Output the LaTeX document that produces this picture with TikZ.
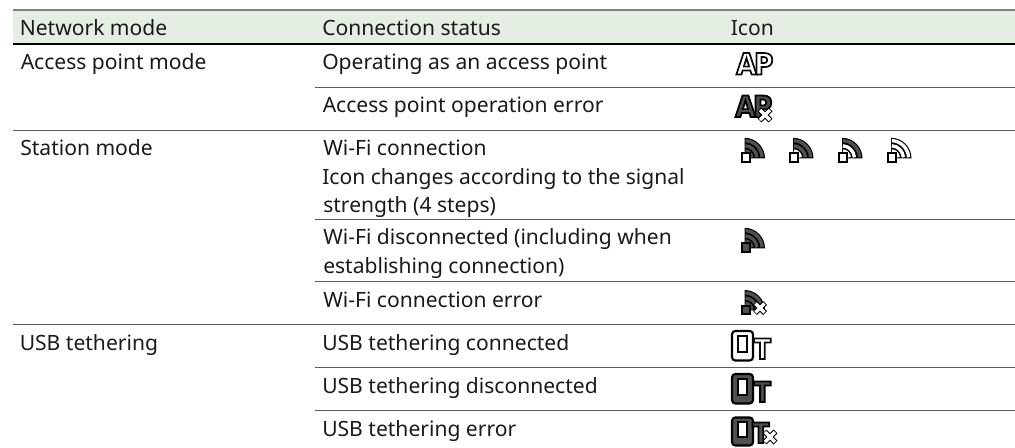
\documentclass[tikz,border=0pt]{standalone}
\usepackage{fontspec}
\setmainfont{Noto Sans}
\newfontfamily\iconfont{DejaVu Sans Bold}[FakeStretch=0.9]
\definecolor{headfill}{HTML}{E4EEE3}
\definecolor{topline}{HTML}{7F7F7F}
\definecolor{rowline}{HTML}{5A5A5A}
\definecolor{icondark}{HTML}{505050}
\definecolor{inktext}{HTML}{1A1A1A}
\tikzset{
  x=0.75pt,y=0.75pt,
  celltext/.style={anchor=base west,inner sep=0pt,text=inktext,font=\fontsize{15.8}{19}\selectfont},
  rowrule/.style={draw=rowline,line width=0.85pt},
  glyphicon/.style={anchor=base west,inner sep=0pt,font=\iconfont\fontsize{22}{22}\selectfont},
  tglyph/.style={anchor=base west,inner sep=0pt,font=\iconfont\fontsize{21}{21}\selectfont},
  xwhite/.style={draw=white,line width=2.4pt},
  xblack/.style={draw=black,line width=4pt},
}
% outlined glyphs: fill + stroke text rendering
\newcommand\outlinewhite{\special{pdf:code 2 Tr 1.3 w 1 1 1 rg 0.05 0.05 0.05 RG}}
\newcommand\outlinedark{\special{pdf:code 2 Tr 1.3 w 0.3 0.3 0.3 rg 0 0 0 RG}}
\newcommand\outlineoff{\special{pdf:code 0 Tr}}
% x y c1 c2 c3 core square
\newcommand\wifiicon[7]{%
  \begin{scope}[shift={(#1,#2)}]
    \fill[black] (0,0) -- (20.5,0) arc[start angle=0,end angle=90,radius=20.5] -- cycle;
    \draw[#3,line width=2.5pt] (17.6,1) arc[start angle=3,end angle=87,radius=17.6];
    \draw[#4,line width=2.5pt] (12.4,1) arc[start angle=4,end angle=86,radius=12.4];
    \draw[#5,line width=2.5pt] (7.3,1) arc[start angle=7,end angle=83,radius=7.3];
    \fill[#6] (1,1) rectangle (3.4,3.4);
    \draw[black,fill=#7,line width=1.5pt] (-3,-3.6) rectangle (5.4,4.8);
  \end{scope}}
\newcommand\xmark[3]{%
  \begin{scope}[shift={(#1,#2)}]
    \draw[xblack] (-#3,-#3) -- (#3,#3) (-#3,#3) -- (#3,-#3);
    \draw[xwhite] (-#3+.6,-#3+.6) -- (#3-.6,#3-.6) (-#3+.6,#3-.6) -- (#3-.6,-#3+.6);
  \end{scope}}
% x y band height
\newcommand\usbicon[4]{%
  \begin{scope}[shift={(#1,#2)}]
    \draw[black,fill=#3,rounded corners=2.5pt,line width=1.6pt] (0,0) rectangle (21,-#4);
    \draw[black,fill=white,line width=1.5pt] (6,-5) rectangle (15,-#4+8);
  \end{scope}}
\begin{document}
\begin{tikzpicture}
\useasboundingbox (0,0) rectangle (1015,-448);
\fill[headfill] (13,-10) rectangle (1015,-44);
\draw[topline,line width=1.5pt] (13,-10) -- (1015,-10);
\draw[black,line width=1pt] (13,-44) -- (1015,-44);
\draw[rowrule] (315,-87.5) -- (1015,-87.5);
\draw[rowrule] (13,-130.5) -- (1015,-130.5);
\draw[rowrule] (315,-219.5) -- (1015,-219.5);
\draw[rowrule] (315,-281.5) -- (1015,-281.5);
\draw[rowrule] (13,-324.5) -- (1015,-324.5);
\draw[rowrule] (315,-367.5) -- (1015,-367.5);
\draw[rowrule] (315,-410.5) -- (1015,-410.5);

\node[celltext] (hmode) at (19.5,-36) {Network mode};
\node[celltext] (hstat) at (322,-36) {Connection status};
\node[celltext] (hicon) at (730.5,-36) {Icon};
\node[celltext] (mode1) at (20.5,-69.5) {Access point mode};
\node[celltext] (s1) at (322,-69.5) {Operating as an access point};
\node[celltext] (s2) at (322.5,-113) {Access point operation error};
\node[celltext] (mode2) at (20,-156) {Station mode};
\node[celltext] (s3a) at (323,-156) {Wi-Fi connection};
\node[celltext] (s3b) at (322,-184.5) {Icon changes according to the signal};
\node[celltext] (s3c) at (323,-213) {strength (4 steps)};
\node[celltext] (s4a) at (323,-245) {Wi-Fi disconnected (including when};
\node[celltext] (s4b) at (323,-273.5) {establishing connection)};
\node[celltext] (s5) at (323,-307.5) {Wi-Fi connection error};
\node[celltext] (mode3) at (19.5,-350.5) {USB tethering};
\node[celltext] (s6) at (322,-350.5) {USB tethering connected};
\node[celltext] (s7) at (322,-393.5) {USB tethering disconnected};
\node[celltext] (s8) at (322,-436.5) {USB tethering error};

% AP icons
\node[glyphicon] (ap1) at (736,-74.5) {\outlinewhite A\kern-2pt P\outlineoff};
\node[glyphicon] (ap2) at (735,-117) {\outlinedark A\kern-2pt P\outlineoff};
\xmark{765}{-115}{5.5}

% Wi-Fi icons
\wifiicon{744.5}{-158.3}{icondark}{icondark}{icondark}{icondark}{white}
\wifiicon{793}{-158.3}{icondark}{icondark}{white}{icondark}{white}
\wifiicon{842}{-158.3}{icondark}{white}{white}{icondark}{white}
\wifiicon{891}{-158.3}{white}{white}{white}{white}{white}
\wifiicon{744.5}{-248.3}{icondark}{icondark}{icondark}{icondark}{icondark}
\wifiicon{744.5}{-310.5}{icondark}{icondark}{icondark}{icondark}{icondark}
\xmark{760}{-308}{5}

% USB icons
\usbicon{732}{-331}{white}{29.5}
\usbicon{732}{-374}{icondark}{29.5}
\usbicon{732}{-417.5}{icondark}{28}
\node[tglyph] (t1) at (753.5,-359) {\outlinewhite T\outlineoff};
\node[tglyph] (t2) at (753.5,-402) {\outlinedark T\outlineoff};
\node[tglyph] (t3) at (752,-443) {\outlinedark T\outlineoff};
\xmark{770}{-437}{5.5}
\end{tikzpicture}
\end{document}
